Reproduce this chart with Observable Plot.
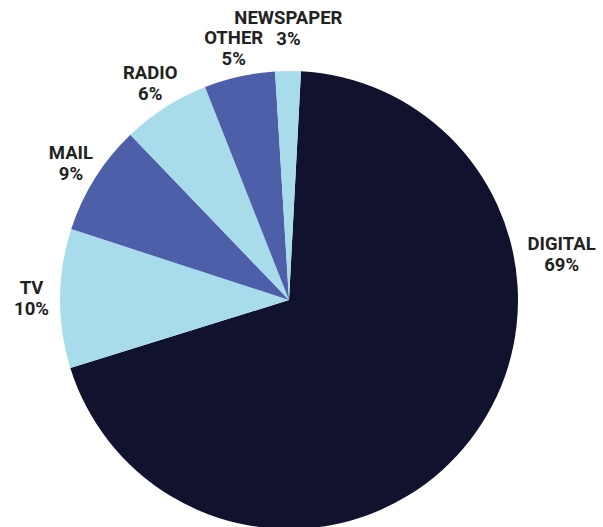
<!DOCTYPE html>
<html>
<head>
<meta charset="utf-8">
<script src="https://cdn.jsdelivr.net/npm/d3@7"></script>
<script src="https://cdn.jsdelivr.net/npm/@observablehq/plot@0.6"></script>
<style>
  html, body { margin: 0; padding: 0; background: #fff; }
  #chart svg { display: block; }
</style>
</head>
<body>
<div id="chart"></div>
<script>
// ---- data ----
const categories = ["DIGITAL", "TV", "MAIL", "RADIO", "OTHER", "NEWSPAPER"];
const shares = [69.3, 9.8, 7.8, 6.2, 5.0, 1.8];
const shareLabels = ["69%", "10%", "9%", "6%", "5%", "3%"];
const sliceColors = ["#11132e", "#a9dceb", "#4d5fa9", "#a9dceb", "#4d5fa9", "#a9dceb"];

// ---- layout ----
const W = 603, H = 527;
const CX = 289, CY = 300, R = 229;
const startDeg = 3;
const fontSize = 18.5;
const lineGap = 21;
const labelR = 258;

const rows = categories.map((c, i) => ({ category: c, share: shares[i], label: shareLabels[i], color: sliceColors[i] }));
const start = startDeg * Math.PI / 180;
const arcs = d3.pie().sort(null).value(d => d.share).startAngle(start).endAngle(start + 2 * Math.PI)(rows);

const labelRows = arcs.map((a) => {
  let theta = (a.startAngle + a.endAngle) / 2;
  let r = labelR;
  if (a.data.share > 50) { theta = 80.4 * Math.PI / 180; r = labelR + 18; } // big slice label sits on the right
  return { x: CX + Math.sin(theta) * r, y: CY - Math.cos(theta) * r, name: a.data.category, pct: a.data.label };
});
// simple collision relief: push a label up if it crowds the previous one
for (let i = 1; i < labelRows.length; i++) {
  const p = labelRows[i - 1], q = labelRows[i];
  if (Math.abs(q.x - p.x) < 70 && Math.abs(q.y - p.y) < 34) q.y = p.y - 20;
}

const textStyle = {
  x: "x", y: "y",
  fontSize: fontSize, fontWeight: 700, fill: "#222",
  fontFamily: "Roboto", textAnchor: "middle", lineAnchor: "middle"
};

const chart = Plot.plot({
  width: W,
  height: H,
  margin: 0,
  x: { domain: [0, W], range: [0, W], axis: null },
  y: { domain: [0, H], range: [0, H], axis: null },
  marks: [
    (index, scales) => {
      const g = d3.create("svg:g");
      const arcGen = d3.arc().innerRadius(0).outerRadius(scales.x(CX + R) - scales.x(CX));
      g.attr("transform", `translate(${scales.x(CX)},${scales.y(CY)})`);
      g.selectAll("path").data(arcs).join("path")
        .attr("d", arcGen)
        .attr("fill", d => d.data.color);
      return g.node();
    },
    Plot.text(labelRows, { ...textStyle, text: "name", dy: -lineGap / 2 }),
    Plot.text(labelRows, { ...textStyle, text: "pct", dy: lineGap / 2 })
  ],
  style: { fontFamily: "Roboto", background: "#fff" }
});
document.getElementById("chart").appendChild(chart);
</script>
</body>
</html>
